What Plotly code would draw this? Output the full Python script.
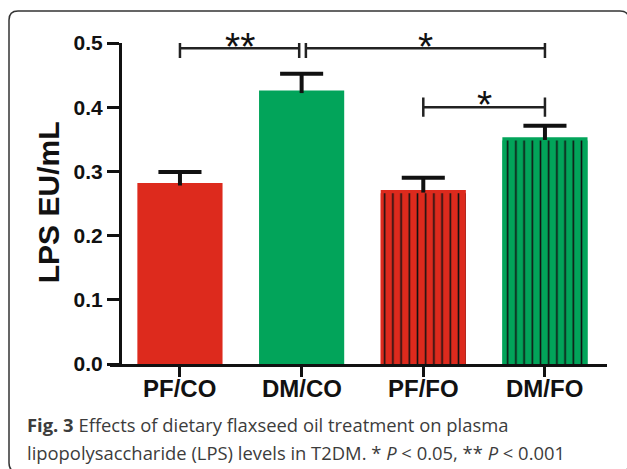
import plotly.graph_objects as go

# ---- data ----
categories = ["PF/CO", "DM/CO", "PF/FO", "DM/FO"]
means = [0.282, 0.426, 0.271, 0.353]
sem = [0.017, 0.026, 0.019, 0.018]
bar_colors = ["#DD2A1D", "#02A45A", "#DD2A1D", "#02A45A"]
bar_patterns = ["", "", "|", "|"]
y_ticks = [0.0, 0.1, 0.2, 0.3, 0.4, 0.5]
y_ticklabels = ["0.0", "0.1", "0.2", "0.3", "0.4", "0.5"]
# significance comparisons: (x_start, x_end, label, bracket level)
comp_x0 = [0.0, 1.035, 2.0]
comp_x1 = [0.98, 3.0, 3.0]
comp_labels = ["**", "*", "*"]
comp_y = [0.4917, 0.4917, 0.400]
caption1 = "<b>Fig. 3</b> Effects of dietary flaxseed oil treatment on plasma"
caption2 = "lipopolysaccharide (LPS) levels in T2DM. * <i>P</i> &lt; 0.05, ** <i>P</i> &lt; 0.001"

x_idx = list(range(len(categories)))

W, H = 627, 469
L, R, T, B = 110, 20, 43, 105
pw, ph = W - L - R, H - T - B


def px_x(p):
    return (p - L) / pw


def px_y(p):
    return (H - B - p) / ph


fig = go.Figure()
pattern_inset = 0.005  # hatch stops just below the bar top (style offset)
for i in x_idx:
    fig.add_trace(go.Bar(
        x=[i], y=[means[i]], width=0.7,
        marker=dict(color=bar_colors[i], line=dict(width=0)),
        showlegend=False, hoverinfo="skip",
    ))
    if bar_patterns[i]:
        fig.add_trace(go.Bar(
            x=[i], y=[means[i] - pattern_inset], width=0.7,
            marker=dict(color=bar_colors[i], line=dict(width=0),
                        pattern=dict(shape=bar_patterns[i], size=8.2, solidity=0.19,
                                     fgcolor="#111111", bgcolor=bar_colors[i],
                                     fgopacity=1, fillmode="overlay")),
            showlegend=False, hoverinfo="skip",
        ))

# error bars (upper only), drawn as lines through the data scale
cap_half = 0.177
ex, ey = [], []
for i, (m, s) in enumerate(zip(means, sem)):
    ex += [i, i, None, i - cap_half, i + cap_half, None]
    ey += [m - 0.004, m + s, None, m + s, m + s, None]
fig.add_trace(go.Scatter(x=ex, y=ey, mode="lines",
                         line=dict(color="#111111", width=4),
                         showlegend=False, hoverinfo="skip", cliponaxis=False))

tick_h = 0.015
for x0, x1, lab, yy in zip(comp_x0, comp_x1, comp_labels, comp_y):
    fig.add_trace(go.Scatter(
        x=[x0, x0, x0, x1, x1, x1],
        y=[yy + tick_h, yy - tick_h, yy, yy, yy + tick_h, yy - tick_h],
        mode="lines", line=dict(color="#222222", width=2.5),
        cliponaxis=False, showlegend=False, hoverinfo="skip",
    ))
    fig.add_annotation(x=(x0 + x1) / 2, y=yy - 0.033, text=lab, showarrow=False,
                       xref="x", yref="y", yanchor="bottom",
                       font=dict(family="Arial, Liberation Sans", size=39, color="#111111"))

# category labels
for i, c in zip(x_idx, categories):
    fig.add_annotation(x=i, y=px_y(388), xref="x", yref="paper", text=c, showarrow=False,
                       xanchor="center", yanchor="middle",
                       font=dict(family="Arial, Liberation Sans", size=24, color="#111111",
                                 weight="bold"))

# y-axis title
fig.add_annotation(x=px_x(48), y=0.252, xref="paper", yref="y", text="<b>LPS EU/mL</b>",
                   textangle=-90, showarrow=False, xanchor="center", yanchor="middle",
                   font=dict(family="Arial, Liberation Sans", size=30, color="#111111"))

# caption
cap_font = dict(family="Open Sans", size=18.4, color="#3c3c3c")
fig.add_annotation(x=px_x(25), y=px_y(425), xref="paper", yref="paper", text=caption1,
                   showarrow=False, xanchor="left", yanchor="middle", align="left", font=cap_font)
fig.add_annotation(x=px_x(25), y=px_y(452), xref="paper", yref="paper", text=caption2,
                   showarrow=False, xanchor="left", yanchor="middle", align="left", font=cap_font)

# rounded frame
fx0, fx1, fy0, fy1 = px_x(9), px_x(629), px_y(472), px_y(11)
rx, ry = 9 / pw, 9 / ph
path = (f"M {fx0 + rx} {fy1} L {fx1 - rx} {fy1} Q {fx1} {fy1} {fx1} {fy1 - ry} "
        f"L {fx1} {fy0 + ry} Q {fx1} {fy0} {fx1 - rx} {fy0} L {fx0 + rx} {fy0} "
        f"Q {fx0} {fy0} {fx0} {fy0 + ry} L {fx0} {fy1 - ry} Q {fx0} {fy1} {fx0 + rx} {fy1} Z")
fig.add_shape(type="path", path=path, xref="paper", yref="paper",
              line=dict(color="#333333", width=1.5), layer="above")

fig.update_layout(
    width=W, height=H, barmode="overlay",
    margin=dict(l=L, r=R, t=T, b=B, pad=0),
    paper_bgcolor="white", plot_bgcolor="white",
    xaxis=dict(range=[-0.575, 3.51], tickvals=x_idx, showticklabels=False,
               showline=True, linecolor="#111111", linewidth=3,
               ticks="outside", ticklen=10, tickwidth=3, tickcolor="#111111",
               showgrid=False, zeroline=False),
    yaxis=dict(range=[0, 0.5], tickvals=y_ticks, ticktext=y_ticklabels,
               anchor="free", position=px_x(120),
               showline=True, linecolor="#111111", linewidth=3,
               ticks="outside", ticklen=12, tickwidth=3, tickcolor="#111111",
               showgrid=False, zeroline=False,
               tickfont=dict(family="Arial, Liberation Sans", size=21, color="#111111",
                             weight="bold")),
    font=dict(family="Arial, Liberation Sans"),
)

fig.write_html("out.html", config={"displayModeBar": False},
               post_script="document.body.style.margin='0';")
